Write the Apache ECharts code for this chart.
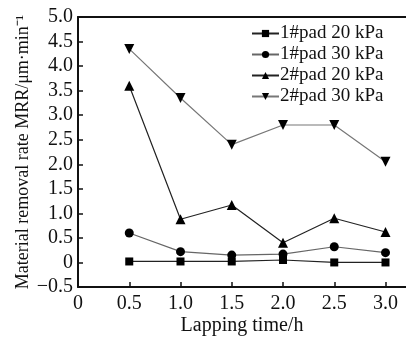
<!DOCTYPE html>
<html><head><meta charset="utf-8">
<script src="https://cdn.jsdelivr.net/npm/echarts@6/dist/echarts.min.js"></script>
<style>html,body{margin:0;padding:0;background:#fff}#c{width:406px;height:338px}</style>
</head><body><div id="c"></div>
<script>
const times = [0.5, 1.0, 1.5, 2.0, 2.5, 3.0];
const pad1_20 = [0.02, 0.02, 0.02, 0.05, 0.0, 0.0];
const pad1_30 = [0.60, 0.22, 0.15, 0.17, 0.32, 0.20];
const pad2_20 = [3.60, 0.88, 1.17, 0.40, 0.90, 0.62];
const pad2_30 = [4.35, 3.35, 2.40, 2.80, 2.80, 2.05];
const seriesNames = ['1#pad 20 kPa', '1#pad 30 kPa', '2#pad 20 kPa', '2#pad 30 kPa'];

const F = 'Liberation Serif';
const pair = arr => times.map((t, i) => [t, arr[i]]);
function mk(name, data, symbol, color, size, rot) {
  return {
    name, type: 'line', data: pair(data), symbol, symbolSize: size, symbolRotate: rot || 0,
    lineStyle: { color: color, width: 1.2 },
    itemStyle: { color: '#000' }
  };
}
const chart = echarts.init(document.getElementById('c'));
chart.setOption({
  animation: false,
  backgroundColor: '#fff',
  grid: { left: 78, right: 0, top: 17, bottom: 51, outerBoundsMode: 'none', containLabel: false },
  legend: {
    orient: 'vertical', left: 246, top: 19, itemGap: 2, itemWidth: 27, itemHeight: 9,
    textStyle: { fontFamily: F, fontSize: 19, color: '#111', padding: [0, 0, 0, -4] },
    data: seriesNames
  },
  xAxis: [{
    type: 'value', min: 0, max: 3.2, interval: 0.5,
    name: 'Lapping time/h', nameLocation: 'middle', nameGap: 29, nameMoveOverlap: false,
    nameTextStyle: { fontFamily: F, fontSize: 20, color: '#111' },
    axisLine: { onZero: false, lineStyle: { color: '#111', width: 2 } },
    axisTick: { inside: true, length: 5, lineStyle: { color: '#111', width: 1.5 } },
    axisLabel: { fontFamily: F, fontSize: 20, color: '#111', margin: 7, showMaxLabel: false,
      formatter: v => v === 0 ? '0' : v.toFixed(1) },
    splitLine: { show: false }
  }, {
    type: 'value', position: 'top', min: 0, max: 3.2,
    axisLine: { show: true, onZero: false, lineStyle: { color: '#111', width: 2 } },
    axisTick: { show: false }, axisLabel: { show: false }, splitLine: { show: false }
  }],
  yAxis: {
    type: 'value', min: -0.5, max: 5, interval: 0.5,
    name: 'Material removal rate MRR/μm·min⁻¹', nameLocation: 'middle', nameGap: 46,
    nameMoveOverlap: false,
    nameTextStyle: { fontFamily: F, fontSize: 18, color: '#111' },
    axisLine: { show: true, onZero: false, lineStyle: { color: '#111', width: 2 } },
    axisTick: { inside: true, length: 5, lineStyle: { color: '#111', width: 1.5 } },
    axisLabel: { fontFamily: F, fontSize: 20, color: '#111', margin: 5,
      formatter: v => v === 0 ? '0' : (v < 0 ? '\u2212' + Math.abs(v).toFixed(1) : v.toFixed(1)) },
    splitLine: { show: false }
  },
  series: [
    mk(seriesNames[0], pad1_20, 'rect', '#222', 8),
    mk(seriesNames[1], pad1_30, 'circle', '#666', 9),
    mk(seriesNames[2], pad2_20, 'triangle', '#222', 10),
    mk(seriesNames[3], pad2_30, 'triangle', '#777', 10, 180)
  ]
});
</script></body></html>
